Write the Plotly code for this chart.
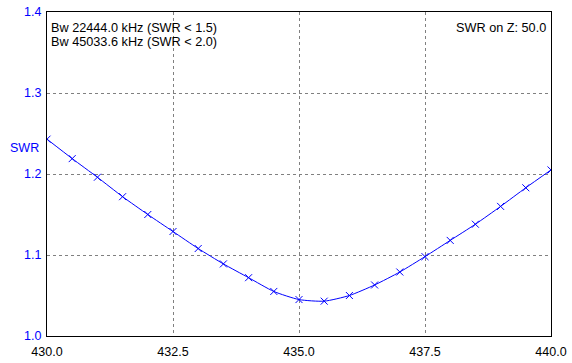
import plotly.graph_objects as go

freq_mhz = [430.0, 430.5, 431.0, 431.5, 432.0, 432.5, 433.0, 433.5, 434.0, 434.5, 435.0,
            435.5, 436.0, 436.5, 437.0, 437.5, 438.0, 438.5, 439.0, 439.5, 440.0]
swr = [1.243, 1.219, 1.196, 1.172, 1.150, 1.129, 1.108, 1.089, 1.072, 1.055, 1.045,
       1.043, 1.050, 1.063, 1.079, 1.098, 1.118, 1.138, 1.160, 1.183, 1.205]
x_ticks = [430.0, 432.5, 435.0, 437.5, 440.0]
y_ticks = [1.0, 1.1, 1.2, 1.3, 1.4]
bw_lines = ["Bw 22444.0 kHz (SWR < 1.5)", "Bw 45033.6 kHz (SWR < 2.0)"]
z_text = "SWR on Z: 50.0"

FONT = "Liberation Sans, Arial, sans-serif"
FS = 12.7

fig = go.Figure()
fig.add_trace(go.Scatter(
    x=freq_mhz, y=swr, mode="lines+markers",
    line=dict(color="#0000ff", width=1, shape="spline", smoothing=0.6),
    marker=dict(symbol="x-thin", size=7, line=dict(color="#0000ff", width=1), color="#0000ff"),
    hoverinfo="skip", showlegend=False,
))

annotations = []
for i, t in enumerate(bw_lines):
    annotations.append(dict(text=t, xref="paper", yref="paper", x=0.004, y=0.952 - i * 0.0435,
                            xanchor="left", yanchor="middle", showarrow=False,
                            font=dict(size=FS, color="black")))
annotations.append(dict(text=z_text, xref="paper", yref="paper", x=0.994, y=0.952,
                        xanchor="right", yanchor="middle", showarrow=False,
                        font=dict(size=FS, color="black")))
annotations.append(dict(text="SWR", xref="paper", yref="paper", x=-0.078, y=0.579,
                        xanchor="left", yanchor="middle", showarrow=False,
                        font=dict(size=12.5, color="#0000ff")))

fig.update_layout(
    width=572, height=363,
    margin=dict(l=47, r=21, t=12, b=27, autoexpand=False),
    paper_bgcolor="white", plot_bgcolor="white",
    font=dict(family=FONT, size=12, color="black"),
    xaxis=dict(range=[430, 440], tickvals=x_ticks, ticktext=[f"{v:.1f}" for v in x_ticks],
               showgrid=True, gridcolor="#808080", griddash="3px,3px", gridwidth=1,
               showline=True, linecolor="black", linewidth=1, mirror=True, automargin=False,
               ticks="", zeroline=False, tickfont=dict(color="black", size=12.5),
               ticklabelstandoff=4),
    yaxis=dict(range=[1.0, 1.4], tickvals=y_ticks, ticktext=[f"{v:.1f}" for v in y_ticks],
               showgrid=True, gridcolor="#808080", griddash="3px,3px", gridwidth=1,
               showline=True, linecolor="black", linewidth=1, mirror=True, automargin=False,
               ticks="", zeroline=False, tickfont=dict(color="#0000ff", size=12.5),
               ticklabelstandoff=2),
    annotations=annotations,
)

fig.write_html("out.html", config={"displayModeBar": False},
               post_script="document.body.style.margin='0';")
